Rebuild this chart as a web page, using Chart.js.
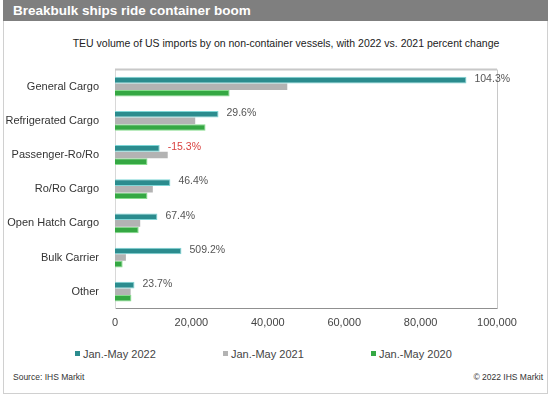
<!DOCTYPE html>
<html>
<head>
<meta charset="utf-8">
<script src="https://cdn.jsdelivr.net/npm/chart.js@4.4.1/dist/chart.umd.min.js"></script>
<style>
  body { margin: 0; background: #fff; font-family: "Liberation Sans", Arial, sans-serif; }
  #frame { position: absolute; left: 3px; top: 0; width: 543px; height: 393px; border: 1px solid #d0d0d0; border-top: none; }
  #header { position: absolute; left: 3px; top: 0; width: 545px; height: 21px; background: #7f7f7f; color: #fff; font-weight: bold; font-size: 13.5px; line-height: 21px; padding-left: 10px; box-sizing: border-box; }
  #subtitle { position: absolute; left: 0; width: 554px; top: 37px; text-align: center; font-size: 10.5px; color: #222; padding-left: 18px; box-sizing: border-box; }
  #chartBox { position: absolute; left: 3px; top: 55px; width: 545px; height: 275px; }
  #legend { position: absolute; top: 347px; left: 0; width: 554px; height: 14px; font-size: 11px; color: #444; }
  #legend span { position: absolute; white-space: nowrap; line-height: 14px; }
  #legend i { display: inline-block; width: 5px; height: 5px; margin-right: 3px; vertical-align: 2px; }
  #src { position: absolute; left: 13px; top: 372px; font-size: 8.5px; color: #333; }
  #copy { position: absolute; right: 11px; top: 372px; font-size: 8.5px; color: #333; }
</style>
</head>
<body>
<div id="frame"></div>
<div id="header">Breakbulk ships ride container boom</div>
<div id="subtitle">TEU volume of US imports by on non-container vessels, with 2022 vs. 2021 percent change</div>
<div id="chartBox"><canvas id="chart"></canvas></div>
<div id="legend"></div>
<div id="src">Source: IHS Markit</div>
<div id="copy">© 2022 IHS Markit</div>
<script>
const categories = ['General Cargo', 'Refrigerated Cargo', 'Passenger-Ro/Ro', 'Ro/Ro Cargo', 'Open Hatch Cargo', 'Bulk Carrier', 'Other'];
const teu2022 = [92000, 27100, 11700, 14500, 11100, 17400, 5100];
const teu2021 = [45100, 21000, 13800, 9900, 6600, 2850, 4100];
const teu2020 = [30000, 23700, 8500, 8500, 6200, 2000, 4300];
const pctChange = ['104.3%', '29.6%', '-15.3%', '46.4%', '67.4%', '509.2%', '23.7%'];
const xTicks = [0, 20000, 40000, 60000, 80000, 100000];

// 百分比標籤 + 外框
const extras = {
  id: 'extras',
  afterDatasetsDraw(chart) {
    const { ctx, chartArea: a } = chart;
    ctx.save();
    ctx.strokeStyle = '#c8c8c8';
    ctx.lineWidth = 2;
    ctx.beginPath();
    ctx.moveTo(a.left, a.top); ctx.lineTo(a.right, a.top);
    ctx.stroke();
    ctx.lineWidth = 1;
    ctx.beginPath();
    ctx.moveTo(a.right + 0.5, a.top); ctx.lineTo(a.right + 0.5, a.bottom);
    ctx.stroke();

    const meta = chart.getDatasetMeta(0);
    ctx.font = '10.5px "Liberation Sans", Arial, sans-serif';
    ctx.textBaseline = 'middle';
    meta.data.forEach((bar, i) => {
      ctx.fillStyle = pctChange[i].startsWith('-') ? '#d9423f' : '#555';
      ctx.fillText(pctChange[i], bar.x + 8, bar.y - 1);
    });
    ctx.restore();
  }
};

const chart = new Chart(document.getElementById('chart'), {
  type: 'bar',
  data: {
    labels: categories,
    datasets: [
      { label: 'Jan.-May 2022', data: teu2022, backgroundColor: '#2b8c8e', borderColor: '#7ed6d6', borderWidth: 1 },
      { label: 'Jan.-May 2021', data: teu2021, backgroundColor: '#b3b3b3', borderWidth: 0 },
      { label: 'Jan.-May 2020', data: teu2020, backgroundColor: '#35a843', borderColor: '#86dc8c', borderWidth: 1 }
    ]
  },
  options: {
    indexAxis: 'y',
    responsive: true,
    maintainAspectRatio: false,
    animation: false,
    layout: { padding: { top: 12, right: 51, left: 0, bottom: 0 } },
    datasets: { bar: { categoryPercentage: 0.58, barPercentage: 1 } },
    scales: {
      x: {
        min: 0, max: 100000,
        afterBuildTicks: s => { s.ticks = xTicks.map(v => ({ value: v })); },
        grid: { display: false },
        border: { color: '#909090' },
        ticks: {
          color: '#444',
          padding: 0,
          font: { size: 11, family: '"Liberation Sans", Arial, sans-serif' },
          callback: v => v.toLocaleString('en-US')
        }
      },
      y: {
        afterFit: s => { s.width = 112; },
        grid: { display: false },
        border: { color: '#d8d8d8' },
        ticks: {
          color: '#333',
          padding: 8,
          autoSkip: false,
          font: { size: 11, family: '"Liberation Sans", Arial, sans-serif' }
        }
      }
    },
    plugins: {
      legend: { display: false },
      tooltip: { enabled: false }
    }
  },
  plugins: [extras]
});

// 圖例
const legendX = [75, 223, 371];
const legend = document.getElementById('legend');
chart.data.datasets.forEach((ds, i) => {
  const span = document.createElement('span');
  span.style.left = legendX[i] + 'px';
  span.innerHTML = `<i style="background:${ds.backgroundColor}"></i>${ds.label}`;
  legend.appendChild(span);
});
</script>
</body>
</html>
